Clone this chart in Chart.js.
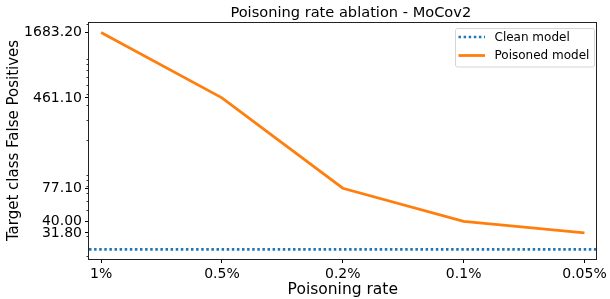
<!DOCTYPE html>
<html><head><meta charset="utf-8">
<script src="https://cdn.jsdelivr.net/npm/chart.js@4/dist/chart.umd.min.js"></script>
<style>html,body{margin:0;padding:0;background:#fff}#w{width:610px;height:299px;position:relative}</style>
</head><body><div id="w"><canvas id="c" width="610" height="299"></canvas></div>
<script>
const categories = ['1%', '0.5%', '0.2%', '0.1%', '0.05%'];
const poisonedValues = [1683.2, 461.1, 77.1, 40.0, 31.8];
const cleanValue = 23.0;
const yTickValues = [31.8, 40.0, 77.1, 461.1, 1683.2];
const yMinorValues = [20, 30, 50, 60, 70, 80, 90, 100, 200, 300, 400, 500, 600, 700, 800, 900, 1000, 2000];
const seriesNames = ['Clean model', 'Poisoned model'];
const chartTitle = 'Poisoning rate ablation - MoCov2';
const xTitle = 'Poisoning rate';
const yTitle = 'Target class False Positives';

const FONT = "'DejaVu Sans', sans-serif";
const X_MIN = -0.1, X_MAX = categories.length - 1 + 0.1;

const framePlugin = {
  id: 'frame',
  afterDraw(chart) {
    const ctx = chart.ctx, a = chart.chartArea;
    const y = chart.scales.y;
    ctx.save();
    // title centred over the axes
    ctx.fillStyle = '#000';
    ctx.font = '14.6px ' + FONT;
    ctx.textAlign = 'center';
    ctx.textBaseline = 'alphabetic';
    ctx.fillText(chartTitle, (a.left + a.right) / 2 + 8, 17);
    // minor ticks
    ctx.strokeStyle = '#000';
    ctx.lineWidth = 0.8;
    yMinorValues.forEach(v => {
      if (v < y.min || v > y.max) return;
      const py = Math.round(y.getPixelForValue(v)) + 0.5;
      ctx.beginPath(); ctx.moveTo(a.left - 2.5, py); ctx.lineTo(a.left, py); ctx.stroke();
    });
    // spines
    ctx.strokeStyle = '#222';
    ctx.lineWidth = 1;
    ctx.strokeRect(Math.round(a.left) - 0.5, Math.round(a.top) + 0.5, Math.round(a.right - a.left), Math.round(a.bottom - a.top));
    // legend
    const bx = 455.5, by = 28.5, bw = 139, bh = 38.5;
    ctx.fillStyle = 'rgba(255,255,255,0.8)';
    ctx.strokeStyle = '#d5d5d5';
    ctx.lineWidth = 1;
    ctx.beginPath();
    if (ctx.roundRect) ctx.roundRect(bx, by, bw, bh, 2); else ctx.rect(bx, by, bw, bh);
    ctx.fill(); ctx.stroke();
    const ds = chart.data.datasets;
    const rows = [37, 55.5];
    ds.forEach((d, i) => {
      ctx.save();
      ctx.strokeStyle = d.borderColor;
      ctx.lineWidth = d.borderWidth;
      ctx.setLineDash(d.borderDash || []);
      ctx.lineCap = 'butt';
      ctx.beginPath(); ctx.moveTo(458.5, rows[i]); ctx.lineTo(485, rows[i]); ctx.stroke();
      ctx.restore();
      ctx.fillStyle = '#000';
      ctx.font = '12px ' + FONT;
      ctx.textBaseline = 'middle';
      ctx.textAlign = 'left';
      ctx.fillText(d.label, 494.5, rows[i] + 0.5);
    });
    ctx.restore();
  }
};

new Chart(document.getElementById('c'), {
  type: 'line',
  data: {
    datasets: [
      {
        label: seriesNames[0],
        data: [{x: X_MIN, y: cleanValue}, {x: X_MAX, y: cleanValue}],
        borderColor: '#1f77b4',
        borderWidth: 2.6,
        borderDash: [2.5, 2.6],
        pointRadius: 0,
        fill: false
      },
      {
        label: seriesNames[1],
        data: poisonedValues.map((v, i) => ({x: i, y: v})),
        borderColor: '#ff7f0e',
        borderWidth: 2.8,
        pointRadius: 0,
        tension: 0,
        fill: false
      }
    ]
  },
  options: {
    responsive: false,
    animation: false,
    devicePixelRatio: 1,
    layout: { padding: { left: 0, right: 11, top: 22, bottom: 0 } },
    plugins: {
      legend: { display: false },
      tooltip: { enabled: false },
      title: { display: false }
    },
    scales: {
      x: {
        type: 'linear', min: X_MIN, max: X_MAX,
        afterBuildTicks: s => { s.ticks = categories.map((c, i) => ({ value: i })); },
        afterFit: s => { s.height = 40; },
        ticks: {
          autoSkip: false, maxRotation: 0, color: '#000', padding: 3,
          font: { family: FONT, size: 14 },
          callback: v => categories[v]
        },
        grid: { display: true, drawOnChartArea: false, tickLength: 4, color: '#000', lineWidth: 1 },
        border: { display: false },
        title: { display: true, text: xTitle, color: '#000', font: { family: FONT, size: 15.5 }, padding: { top: 0, bottom: 0 } }
      },
      y: {
        type: 'logarithmic', min: 19, max: 2070,
        afterBuildTicks: s => { s.ticks = yTickValues.map(v => ({ value: v })); },
        afterFit: s => { s.width = 89; },
        ticks: {
          autoSkip: false, color: '#000', padding: 3,
          font: { family: FONT, size: 14 },
          callback: v => Number(v).toFixed(2)
        },
        grid: { display: true, drawOnChartArea: false, tickLength: 4, color: '#000', lineWidth: 1 },
        border: { display: false },
        title: { display: true, text: yTitle, color: '#000', font: { family: FONT, size: 15 }, padding: { top: 5, bottom: 0 } }
      }
    }
  },
  plugins: [framePlugin]
});
</script>
</body></html>
